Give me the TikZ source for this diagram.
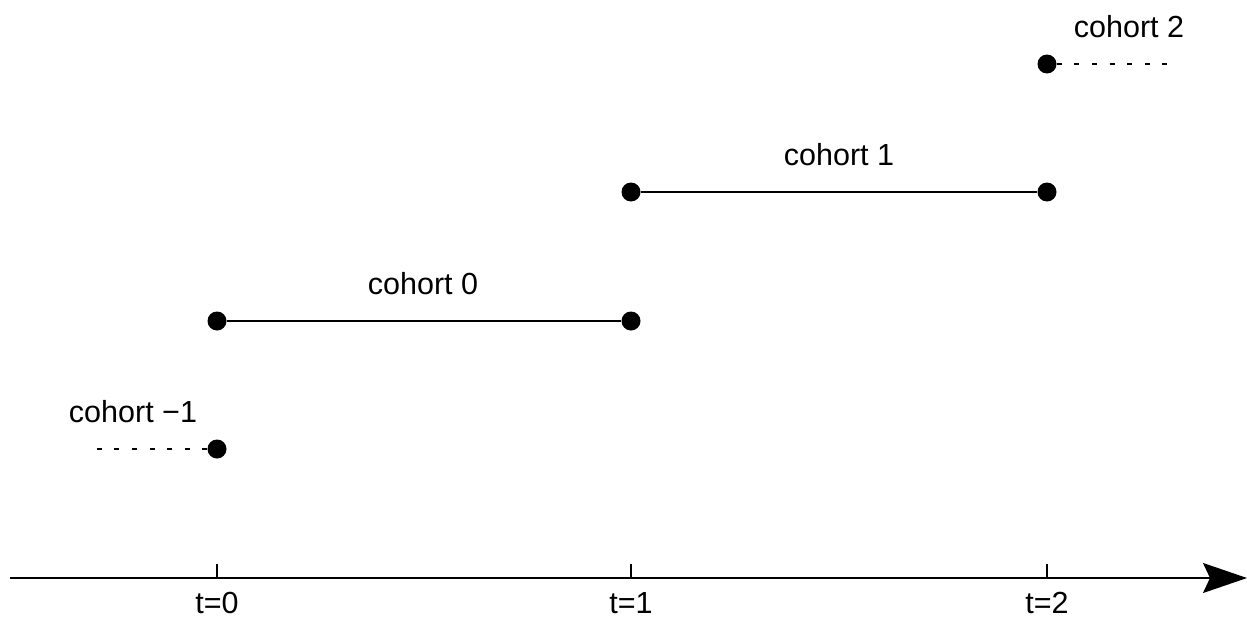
\documentclass[tikz,border=0pt]{standalone}
\usepackage{fontspec}
\setmainfont{Liberation Sans}
\usetikzlibrary{arrows.meta}
\begin{document}
\begin{tikzpicture}[x=1pt,y=-1pt,
  dot/.style={circle,fill=black,inner sep=0pt,minimum size=19pt},
  lbl/.style={font=\fontsize{30.5}{33}\selectfont,inner sep=0pt,anchor=base},
  seg/.style={line width=1.5pt},
  dsh/.style={line width=1.3pt,dash pattern=on 5pt off 12.6pt},
  axis/.style={line width=1.6pt,-{Stealth[length=44pt,width=30pt,inset=7pt]}}]
\useasboundingbox (0,0) rectangle (1247,621);
\coordinate (as) at (10,578);
\coordinate (ae) at (1247,578);
\draw[axis] (as) -- (ae);
\foreach \x/\n in {217/0,631/1,1047/2}{
  \coordinate (tk\n) at (\x,578);
  \coordinate (tt\n) at (\x,564);
  \draw[line width=1.3pt] (tk\n) -- (tt\n);
  \node[lbl] (tl\n) at (\x,613) {t=\n};
}
% cohort -1
\node[dot] (m1) at (217,449) {};
\coordinate (m1s) at (92,449);
\draw[dsh] (m1) -- (m1s);
\node[lbl] (lm1) at (133,422) {cohort −1};
% cohort 0
\node[dot] (a0) at (217,321) {};
\node[dot] (b0) at (631,321) {};
\draw[seg] (a0) -- (b0);
\node[lbl] (l0) at (423,294) {cohort 0};
% cohort 1
\node[dot] (a1) at (631,192) {};
\node[dot] (b1) at (1047,192) {};
\draw[seg] (a1) -- (b1);
\node[lbl] (l1) at (839,165) {cohort 1};
% cohort 2
\node[dot] (a2) at (1047,64) {};
\coordinate (a2e) at (1172,64);
\draw[dsh] (a2) -- (a2e);
\node[lbl] (l2) at (1129,37) {cohort 2};
\end{tikzpicture}
\end{document}
